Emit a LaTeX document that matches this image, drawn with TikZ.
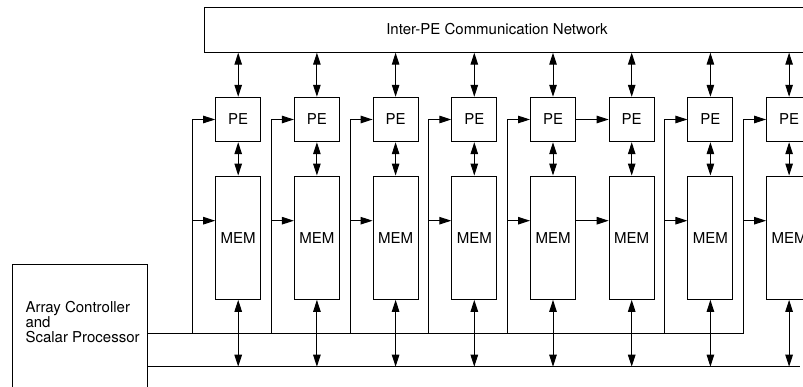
\documentclass[tikz,border=0pt]{standalone}
\usepackage{fontspec}
\setmainfont{TeX Gyre Heros}
\usetikzlibrary{arrows.meta}
\begin{document}
\begin{tikzpicture}[x=1pt,y=-1pt,line width=1pt,>={Triangle[length=12pt,width=7.5pt]},
 every node/.style={font=\fontsize{15}{15.2}\selectfont},
 pebox/.style={draw,minimum width=45pt,minimum height=44.4pt,inner sep=0pt},
 membox/.style={draw,minimum width=45pt,minimum height=123.3pt,inner sep=0pt}]
\useasboundingbox (0,0) rectangle (803,387);
\clip (0,0) rectangle (803,387);
\newcommand{\ArrCol}[2]{\node[pebox] (PE-#1) at (#2,119.5) {PE};\node[membox] (MEM-#1) at (#2,237.7) {MEM};
 \draw[<->] (PE-#1 |- Net.south)--(PE-#1.north); \draw[<->] (PE-#1.south)--(MEM-#1.north);
 \draw[<->] (MEM-#1.south)--(MEM-#1 |- BusB);}
\newcommand{\Feed}[2]{\coordinate (Feed-#1) at (#2-45.5,333);
 \draw[->] (Feed-#1) |- (PE-#1.west); \draw[->] (Feed-#1 |- 0,220.7)--(MEM-#1.west |- 0,220.7);}
% network and controller
\node[draw,minimum width=620pt,minimum height=44.4pt,inner sep=0pt,anchor=north west] (Net) at (204,7.3) {};
\node (NetLbl) at (497,29.5) {Inter-PE Communication Network};
\node[draw,minimum width=135pt,minimum height=135pt,inner sep=0pt] (Ctrl) at (80.2,332.5) {};
\node[align=left,anchor=west,inner sep=0pt] (CtrlLbl) at (25,322) {Array Controller\\and\\Scalar Processor};
\coordinate (BusB) at (800,366.7);
% processing elements
\ArrCol{1}{238.2}\ArrCol{2}{316.9}\ArrCol{3}{395.6}\ArrCol{4}{474.3}
\ArrCol{5}{553}\ArrCol{6}{631.7}\ArrCol{7}{710.4}\ArrCol{8}{789.1}
\Feed{1}{238.2}\Feed{2}{316.9}\Feed{3}{395.6}\Feed{4}{474.3}
\Feed{5}{553}\Feed{7}{710.4}\Feed{8}{789.1}
\draw[->] (PE-5)--(PE-6); \draw[->] (MEM-5.east |- 0,220.7)--(MEM-6.west |- 0,220.7);
% buses
\draw (Ctrl.east |- Feed-8)--(Feed-8);
\draw (Ctrl.east |- BusB)--(BusB);
\end{tikzpicture}
\end{document}
